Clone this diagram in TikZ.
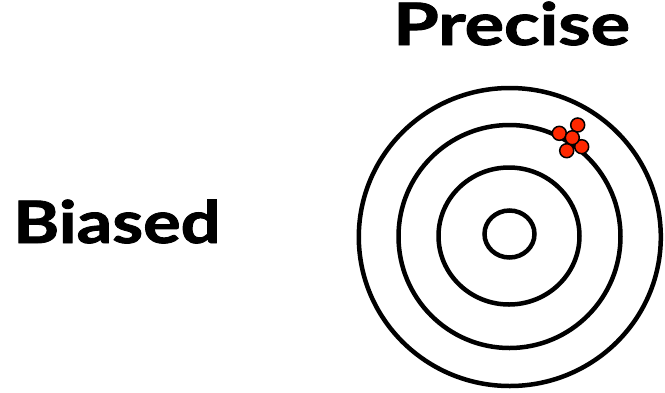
\documentclass[tikz,border=0pt]{standalone}
\usepackage{fontspec}
\setmainfont{Lato}[BoldFeatures={FakeBold=1.5}]
\definecolor{dotred}{RGB}{255,40,0}
\begin{document}
\begin{tikzpicture}[x=1pt,y=-1pt,
  ring/.style={draw=black,line width=4.5pt},
  shot/.style={circle,draw=black,fill=dotred,line width=1.5pt,minimum size=14pt,inner sep=0pt},
  label/.style={font=\fontsize{58.5}{62}\selectfont\bfseries,inner sep=0pt,anchor=base west}]
\useasboundingbox (0,0) rectangle (665,392);
\draw[ring] (509.8,237) ellipse [x radius=151,y radius=149];
\draw[ring] (509.5,236.5) ellipse [x radius=111,y radius=111.5];
\draw[ring] (509,236) ellipse [x radius=70.5,y radius=68.5];
\draw[ring] (509.5,234) ellipse [x radius=25,y radius=23.5];
\node[shot] (s1) at (559.3,133.3) {};
\node[shot] (s2) at (577.7,125) {};
\node[shot] (s3) at (581.7,146.7) {};
\node[shot] (s4) at (566.7,150.7) {};
\node[shot] (s5) at (572.3,137.7) {};
\node[label] (precise) at (393,45) {\scalebox{1.26}[1]{Precise}};
\node[label] (biased) at (13,243) {\scalebox{1.2}[1]{Biased}};
\end{tikzpicture}
\end{document}
